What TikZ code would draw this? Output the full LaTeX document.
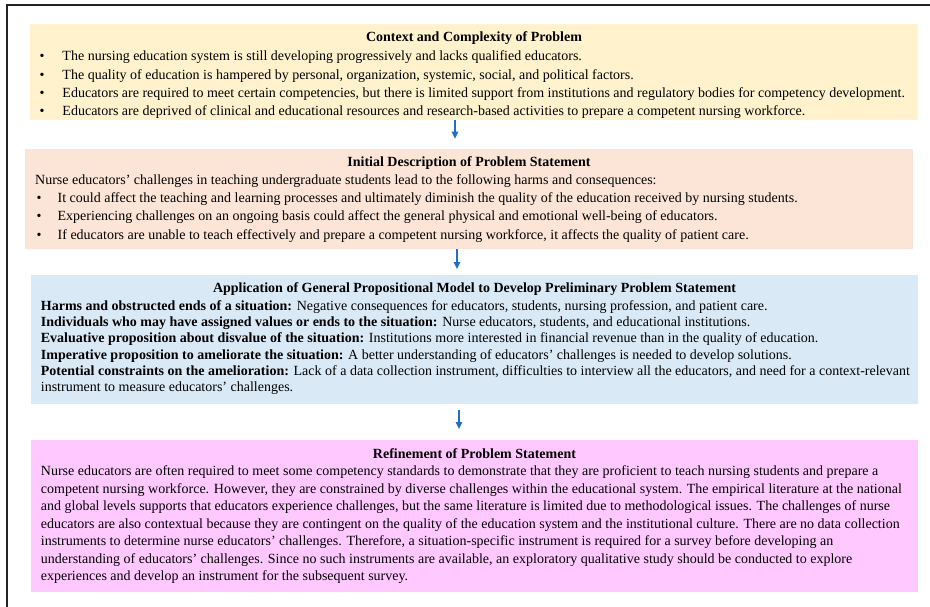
\documentclass[tikz,border=0pt]{standalone}
\usepackage{fontspec}
\setmainfont{Liberation Serif}
\usetikzlibrary{arrows.meta}
\definecolor{boxyellow}{HTML}{FFF2CC}
\definecolor{boxpeach}{HTML}{FCE4D6}
\definecolor{boxblue}{HTML}{DAE9F6}
\definecolor{boxpink}{HTML}{FFC9FF}
\definecolor{arrowblue}{HTML}{1F6FC5}
\definecolor{framegray}{HTML}{222222}
\newcommand{\bul}[1]{\makebox[#1][l]{\textbullet}}
\begin{document}
\begin{tikzpicture}[x=1pt,y=-1pt,
  panel/.style={draw=none, inner sep=0pt, outer sep=0pt},
  heading/.style={anchor=base, inner sep=0pt, font=\fontsize{14}{16}\selectfont\bfseries},
  body/.style={anchor=base west, inner sep=0pt, align=left},
  flow/.style={draw=arrowblue, line width=1.3pt, -{Triangle[width=6.5pt,length=7pt]}}
]
\useasboundingbox (0,0) rectangle (930,607);
\draw[framegray, line width=1.3pt] (7,640) -- (7,5) -- (960,5);

% panels
\node[panel, fill=boxyellow, minimum width=888pt, minimum height=96pt] (b1) at (474,72) {};
\node[panel, fill=boxpeach, minimum width=888pt, minimum height=100.5pt] (b2) at (469,199) {};
\node[panel, fill=boxblue, minimum width=887pt, minimum height=128.5pt] (b3) at (474.5,339.25) {};
\node[panel, fill=boxpink, minimum width=887pt, minimum height=152pt] (b4) at (474.5,516) {};

% titles
\node[heading] (t1) at (474,42) {Context and Complexity of Problem};
\node[heading] (t2) at (469,166.8) {Initial Description of Problem Statement};
\node[heading] (t3) at (474.5,292.2) {Application of General Propositional Model to Develop Preliminary Problem Statement};
\node[heading] (t4) at (474.5,458.5) {Refinement of Problem Statement};

% bodies
\node[body] (c1) at (39.3,60.7) {\parbox[t]{900pt}{\fontsize{14}{18.35}\selectfont
\bul{23pt}The nursing education system is still developing progressively and lacks qualified educators.\\
\bul{23pt}The quality of education is hampered by personal, organization, systemic, social, and political factors.\\
\bul{23pt}Educators are required to meet certain competencies, but there is limited support from institutions and regulatory bodies for competency development.\\
\bul{23pt}Educators are deprived of clinical and educational resources and research-based activities to prepare a competent nursing workforce.}};

\node[body] (c2) at (35,184.3) {\parbox[t]{900pt}{\fontsize{14}{18.3}\selectfont
Nurse educators’ challenges in teaching undergraduate students lead to the following harms and consequences:\\
\hspace*{1.5pt}\bul{21pt}It could affect the teaching and learning processes and ultimately diminish the quality of the education received by nursing students.\\
\hspace*{1.5pt}\bul{21pt}Experiencing challenges on an ongoing basis could affect the general physical and emotional well-being of educators.\\
\hspace*{1.5pt}\bul{21pt}If educators are unable to teach effectively and prepare a competent nursing workforce, it affects the quality of patient care.}};

\node[body] (c3) at (40.7,310.7) {\parbox[t]{920pt}{\fontsize{14}{16.1}\selectfont
\textbf{Harms and obstructed ends of a situation:} Negative consequences for educators, students, nursing profession, and patient care.\\
\textbf{Individuals who may have assigned values or ends to the situation:} Nurse educators, students, and educational institutions.\\
\textbf{Evaluative proposition about disvalue of the situation:} Institutions more interested in financial revenue than in the quality of education.\\
\textbf{Imperative proposition to ameliorate the situation:} A better understanding of educators’ challenges is needed to develop solutions.\\
\textbf{Potential constraints on the amelioration:} Lack of a data collection instrument, difficulties to interview all the educators, and need for a context-relevant\\
instrument to measure educators’ challenges.}};

\node[body] (c4) at (40.7,475.5) {\parbox[t]{920pt}{\fontsize{14}{17.5}\selectfont
Nurse educators are often required to meet some competency standards to demonstrate that they are proficient to teach nursing students and prepare a\\
competent nursing workforce. However, they are constrained by diverse challenges within the educational system. The empirical literature at the national\\
and global levels supports that educators experience challenges, but the same literature is limited due to methodological issues. The challenges of nurse\\
educators are also contextual because they are contingent on the quality of the education system and the institutional culture. There are no data collection\\
instruments to determine nurse educators’ challenges. Therefore, a situation-specific instrument is required for a survey before developing an\\
understanding of educators’ challenges. Since no such instruments are available, an exploratory qualitative study should be conducted to explore\\
experiences and develop an instrument for the subsequent survey.}};

% connectors
\draw[flow, shorten >=10pt] ([xshift=-19pt]b1.south) -- ([xshift=-14pt]b2.north);
\draw[flow, shorten >=6pt] ([xshift=-12pt]b2.south) -- ([xshift=-17.5pt]b3.north);
\draw[flow, shorten <=6pt, shorten >=11pt] ([xshift=-15.5pt]b3.south) -- ([xshift=-15.5pt]b4.north);
\end{tikzpicture}
\end{document}
